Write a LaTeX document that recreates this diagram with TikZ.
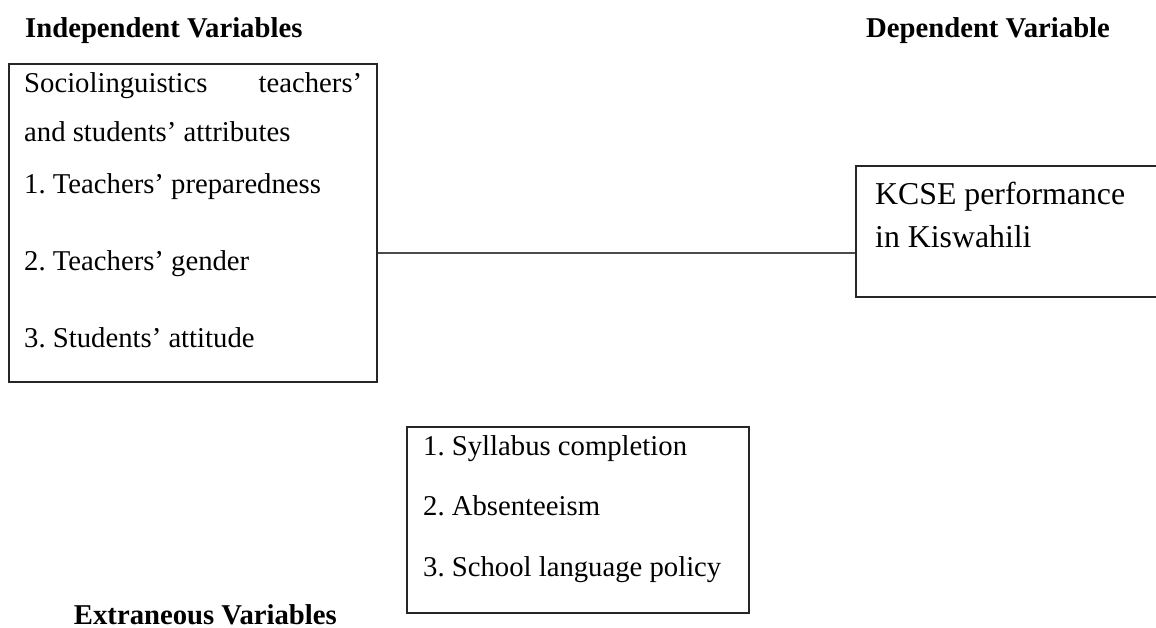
\documentclass[tikz,border=0pt]{standalone}
\usepackage{fontspec}
\setmainfont{Liberation Serif}
\frenchspacing
\begin{document}
\begin{tikzpicture}[x=1pt,y=-1pt,
  box/.style={draw=black!85,line width=1.1pt,inner sep=0pt},
  txt/.style={anchor=base west,inner sep=0pt,font=\fontsize{28.7}{34}\selectfont},
  bigtxt/.style={anchor=base west,inner sep=0pt,font=\fontsize{31.8}{38}\selectfont},
  head/.style={inner sep=0pt,font=\fontsize{28.7}{34}\selectfont\bfseries},
  link/.style={draw=black!70,line width=1.1pt}]
\useasboundingbox (0,0) rectangle (1156,628);
\begin{scope}
\clip (0,0) rectangle (1156,628);
% headings
\node[head,anchor=base west] (hind) at (25,38) {Independent Variables};
\node[head,anchor=base west] (hdep) at (866,38) {Dependent Variable};
\node[head,anchor=base east,text depth=0pt] (hext) at (337,624) {Extraneous Variables};
% boxes
\node[box,minimum width=368pt,minimum height=318pt] (b1) at (193,223) {};
\node[box,minimum width=314pt,minimum height=131pt] (b2) at (1013,231.5) {};
\node[box,minimum width=342pt,minimum height=186pt] (b3) at (578,520) {};
% box 1 text
\node[txt] (t11) at (24,93) {\hbox to 338pt{Sociolinguistics\hfill teachers’}};
\node[txt] (t12) at (24,142) {and students’ attributes};
\node[txt] (t13) at (24,194) {1. Teachers’ preparedness};
\node[txt] (t14) at (24,271) {2. Teachers’ gender};
\node[txt] (t15) at (24,347) {3. Students’ attitude};
% box 2 text
\node[bigtxt] (t21) at (875,205) {KCSE performance};
\node[bigtxt] (t22) at (875,248) {in Kiswahili};
% box 3 text
\node[txt] (t31) at (423,455) {1. Syllabus completion};
\node[txt] (t32) at (423,515) {2. Absenteeism};
\node[txt] (t33) at (423,576) {3. School language policy};
% connector
\coordinate (lk) at (0,253);
\draw[link] (b1.east |- lk) -- (b2.west |- lk);
\end{scope}
\end{tikzpicture}
\end{document}
